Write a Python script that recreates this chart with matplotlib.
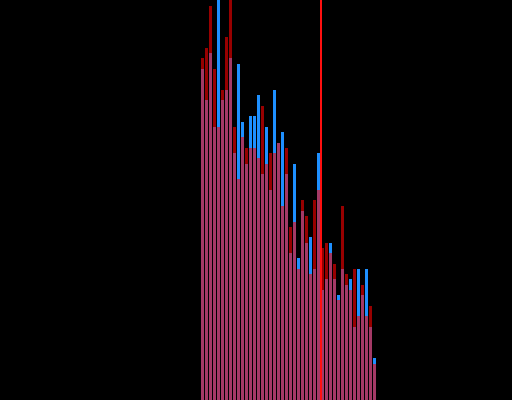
import matplotlib
matplotlib.use("Agg")
import matplotlib.pyplot as plt
import numpy as np

# bar heights (pixel units, 0 = bottom, 400 = top edge)
red_vals = [342, 352, 394, 331, 273, 310, 363, 415, 273, 221, 263, 252, 252, 252, 242,
            294, 236, 247, 247, 257, 194, 252, 173, 178, 131, 200, 184, 126, 200, 210,
            152, 157, 147, 136, 100, 194, 126, 110, 131, 84, 115, 84, 94, 36]
blue_vals = [331, 300, 347, 273, 415, 300, 310, 342, 247, 336, 278, 236, 284, 284, 305,
             226, 273, 210, 310, 257, 268, 226, 147, 236, 142, 189, 157, 163, 131, 247,
             110, 121, 157, 121, 105, 131, 115, 121, 73, 131, 105, 131, 73, 42]
marker_x = 29.625

x = np.arange(len(red_vals))

fig = plt.figure(figsize=(5.12, 4.0), dpi=100, facecolor="black")
ax = fig.add_axes([0, 0, 1, 1])
ax.set_facecolor("black")

ax.bar(x, blue_vals, width=0.75, color="#1e90ff", linewidth=0)
ax.bar(x, red_vals, width=0.75, color="#ff0000", alpha=0.6, linewidth=0)
ax.axvline(marker_x, color="#ff1010", lw=1.44, antialiased=False)

ax.set_xlim(-50.625, 77.375)
ax.set_ylim(0, 400)
ax.axis("off")

fig.savefig("out.png", dpi=100, facecolor="black")
